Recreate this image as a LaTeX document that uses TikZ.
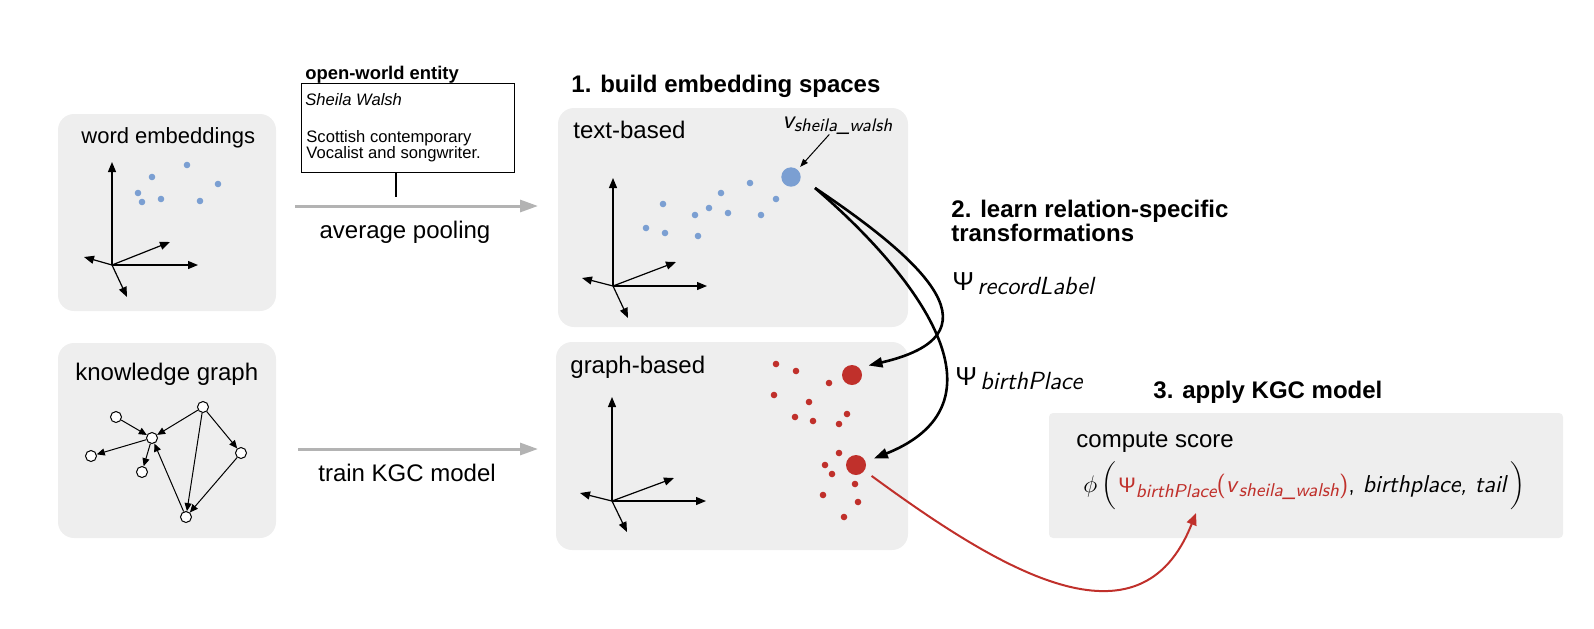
\documentclass[tikz,border=0pt]{standalone}
\usepackage{fontspec}
\setmainfont{Liberation Sans}
\newfontfamily\psifont{Liberation Sans}
\usetikzlibrary{arrows.meta}
\definecolor{boxgray}{HTML}{EEEEEE}
\definecolor{dotblue}{HTML}{7B9FD2}
\definecolor{kgred}{HTML}{C0302B}
\definecolor{arrowgray}{HTML}{B3B3B3}
\newcommand{\subtext}[3]{\raisebox{-#1}{\fontsize{#2}{#2}\selectfont\sffamily\itshape #3}}
\begin{document}
\begin{tikzpicture}[x=0.5pt,y=-0.5pt,
  panel/.style={fill=boxgray, rounded corners=8pt},
  lbl/.style={anchor=base west, inner sep=0pt, font=\fontsize{12}{14}\selectfont},
  ttl/.style={anchor=base west, inner sep=0pt, font=\fontsize{12}{12.2}\selectfont\bfseries},
  etext/.style={anchor=base west, inner sep=0pt, font=\fontsize{8.3}{10}\selectfont},
  axis/.style={-{Triangle[length=5pt,width=4pt]}, line width=0.6pt},
  gedge/.style={-{Triangle[length=4pt,width=3.5pt]}, line width=0.5pt},
  gnode/.style={circle, draw, line width=0.5pt, fill=white, minimum size=5.5pt, inner sep=0pt},
  flow/.style={-{Triangle[length=9pt,width=6pt]}, arrowgray, line width=1.5pt},
  trans/.style={-{Triangle[length=7pt,width=5pt]}, line width=1.3pt},
  bigdot/.style={circle, inner sep=0pt, minimum size=10pt, outer sep=4.5pt},
]
\path[use as bounding box] (0,0) rectangle (1594,628);

% ---------- panels ----------
\fill[panel] (58,114) rectangle (276,311);
\fill[panel] (58,343) rectangle (276,538);
\fill[panel] (558,108) rectangle (908,327);
\fill[panel] (556,342) rectangle (908,550);
\fill[boxgray, rounded corners=2pt] (1049,413) rectangle (1563,538);

% ---------- word embeddings ----------
\node[lbl, font=\fontsize{11}{13}\selectfont] (we) at (81,143) {word embeddings};
\coordinate (weo) at (112,265);
\coordinate (weu) at (112,162);
\coordinate (wer) at (198,265);
\coordinate (wed) at (170,242);
\coordinate (wel) at (84,257);
\coordinate (wedn) at (127,297);
\foreach \e in {weu,wer,wed,wel,wedn} \draw[axis] (weo) -- (\e);
\foreach \p in {(187,165),(152,177),(218,184),(138,193),(142,202),(161,199),(200,201)}
  \fill[dotblue] \p circle[radius=1.65pt];

% ---------- knowledge graph ----------
\node[lbl] (kg) at (75,380) {knowledge graph};
\node[gnode] (gA) at (116,417) {};
\node[gnode] (gB) at (152,438) {};
\node[gnode] (gC) at (91,456) {};
\node[gnode] (gD) at (142,472) {};
\node[gnode] (gE) at (203,407) {};
\node[gnode] (gF) at (241,453) {};
\node[gnode] (gG) at (186,517) {};
\draw[gedge] (gA) -- (gB);
\draw[gedge] (gB) -- (gC);
\draw[gedge] (gB) -- (gD);
\draw[gedge] (gE) -- (gB);
\draw[gedge] (gE) -- (gG);
\draw[gedge] (gE) -- (gF);
\draw[gedge] (gF) -- (gG);
\draw[gedge] (gG) -- (gB);

% ---------- open-world entity ----------
\node[anchor=base west, inner sep=0pt, font=\fontsize{9.2}{11}\selectfont\bfseries] (owt) at (305,79) {open-world entity};
\node[draw, line width=0.5pt, inner sep=0pt, minimum width=106.5pt, minimum height=44.5pt, anchor=north west] (ent) at (301,83) {};
\node[etext, font=\fontsize{8.3}{10}\selectfont\itshape] (ename) at (305,105) {Sheila Walsh};
\node[etext] (edesc1) at (306,142) {Scottish contemporary};
\node[etext] (edesc2) at (306,158) {Vocalist and songwriter.};
\coordinate (entfoot) at (396,172);
\coordinate (poolmid) at (396,197);
\draw[line width=0.6pt] (entfoot) -- (poolmid);

% ---------- flows ----------
\coordinate (f1s) at (295,206);
\coordinate (f1e) at (538,206);
\draw[flow] (f1s) -- (f1e);
\node[anchor=base, inner sep=0pt, font=\fontsize{12}{14}\selectfont] (avg) at (405,238) {average pooling};
\coordinate (f2s) at (298,449);
\coordinate (f2e) at (538,449);
\draw[flow] (f2s) -- (f2e);
\node[lbl] (trn) at (318,481) {train KGC model};

% ---------- titles ----------
\node[ttl] (t1) at (571,92) {1. build embedding spaces};
\node[ttl] (t2a) at (951,217) {2. learn relation-specific};
\node[ttl] (t2b) at (951,241) {transformations};
\node[ttl] (t3) at (1153,398) {3. apply KGC model};

% ---------- text-based ----------
\node[lbl] (tb) at (573,138) {text-based};
\coordinate (tbo) at (613,286);
\coordinate (tbu) at (613,178);
\coordinate (tbr) at (707,286);
\coordinate (tbd) at (676,262);
\coordinate (tbl) at (582,278);
\coordinate (tbdn) at (628,318);
\foreach \e in {tbu,tbr,tbd,tbl,tbdn} \draw[axis] (tbo) -- (\e);
\foreach \p in {(750,183),(721,193),(663,204),(709,208),(695,215),(728,213),(776,199),(761,215),(646,228),(665,233),(698,236)}
  \fill[dotblue] \p circle[radius=1.65pt];
\node[circle, fill=dotblue, inner sep=0pt, minimum size=9.7pt, outer sep=2pt] (bd) at (791,177) {};
\node[anchor=base west, inner sep=0pt] (vlab) at (782,128) {{\fontsize{13}{14}\selectfont\sffamily\itshape v}\subtext{1.5pt}{9.1}{sheila\_walsh}};
\draw[-{Triangle[length=4pt,width=3pt]}, line width=0.5pt] ([xshift=-4pt]vlab.south) -- (bd);

% ---------- graph-based ----------
\node[lbl] (gb) at (570,373) {graph-based};
\coordinate (gbo) at (612,501);
\coordinate (gbu) at (612,397);
\coordinate (gbr) at (706,501);
\coordinate (gbd) at (674,478);
\coordinate (gbl) at (580,493);
\coordinate (gbdn) at (627,532);
\foreach \e in {gbu,gbr,gbd,gbl,gbdn} \draw[axis] (gbo) -- (\e);
\foreach \p in {(776,364),(796,371),(829,383),(774,395),(809,402),(847,414),(795,417),(813,421),(839,424),(839,453),(825,465),(832,474),(855,484),(823,495),(858,502),(844,517)}
  \fill[kgred] \p circle[radius=1.65pt];
\node[bigdot, fill=kgred] (rd1) at (852,375) {};
\node[bigdot, fill=kgred] (rd2) at (856,465) {};

% ---------- transformations ----------
\coordinate (cstart) at (815,188);
\draw[trans] (cstart) .. controls (930,265) and (1000,335) .. (rd1.30);
\draw[trans] (cstart) .. controls (905,265) and (1020,400) .. (rd2.20);
\node[anchor=base west, inner sep=0pt] (psiR) at (952,290) {{\psifont\fontsize{13}{14}\selectfont Ψ}\,\subtext{2.2pt}{12.4}{recordLabel}};
\node[anchor=base west, inner sep=0pt] (psiB) at (955,385) {{\psifont\fontsize{13}{14}\selectfont Ψ}\,\subtext{2.2pt}{12.4}{birthPlace}};

% ---------- compute score ----------
\node[lbl] (cs) at (1076,447) {compute score};
\node[anchor=base west, inner sep=0pt, font=\fontsize{12.2}{14}\selectfont] (formula) at (1083,492)
  {$\phi\left(\vrule height 12pt depth 8pt width 0pt\right.$\textcolor{kgred}{{\psifont\fontsize{10.5}{12}\selectfont Ψ}\subtext{2.5pt}{9.3}{birthPlace}\textsf{(\itshape v}\subtext{2pt}{9.3}{sheila\_walsh}\textsf{)}}\textsf{, \itshape birthplace, tail}$\left.\vrule height 12pt depth 8pt width 0pt\right)$};
\coordinate (tipR) at (1196,513);
\draw[-{Triangle[length=6pt,width=5pt]}, kgred, line width=1pt] (rd2.-35) .. controls (1000,570) and (1140,655) .. (tipR);
\end{tikzpicture}
\end{document}
